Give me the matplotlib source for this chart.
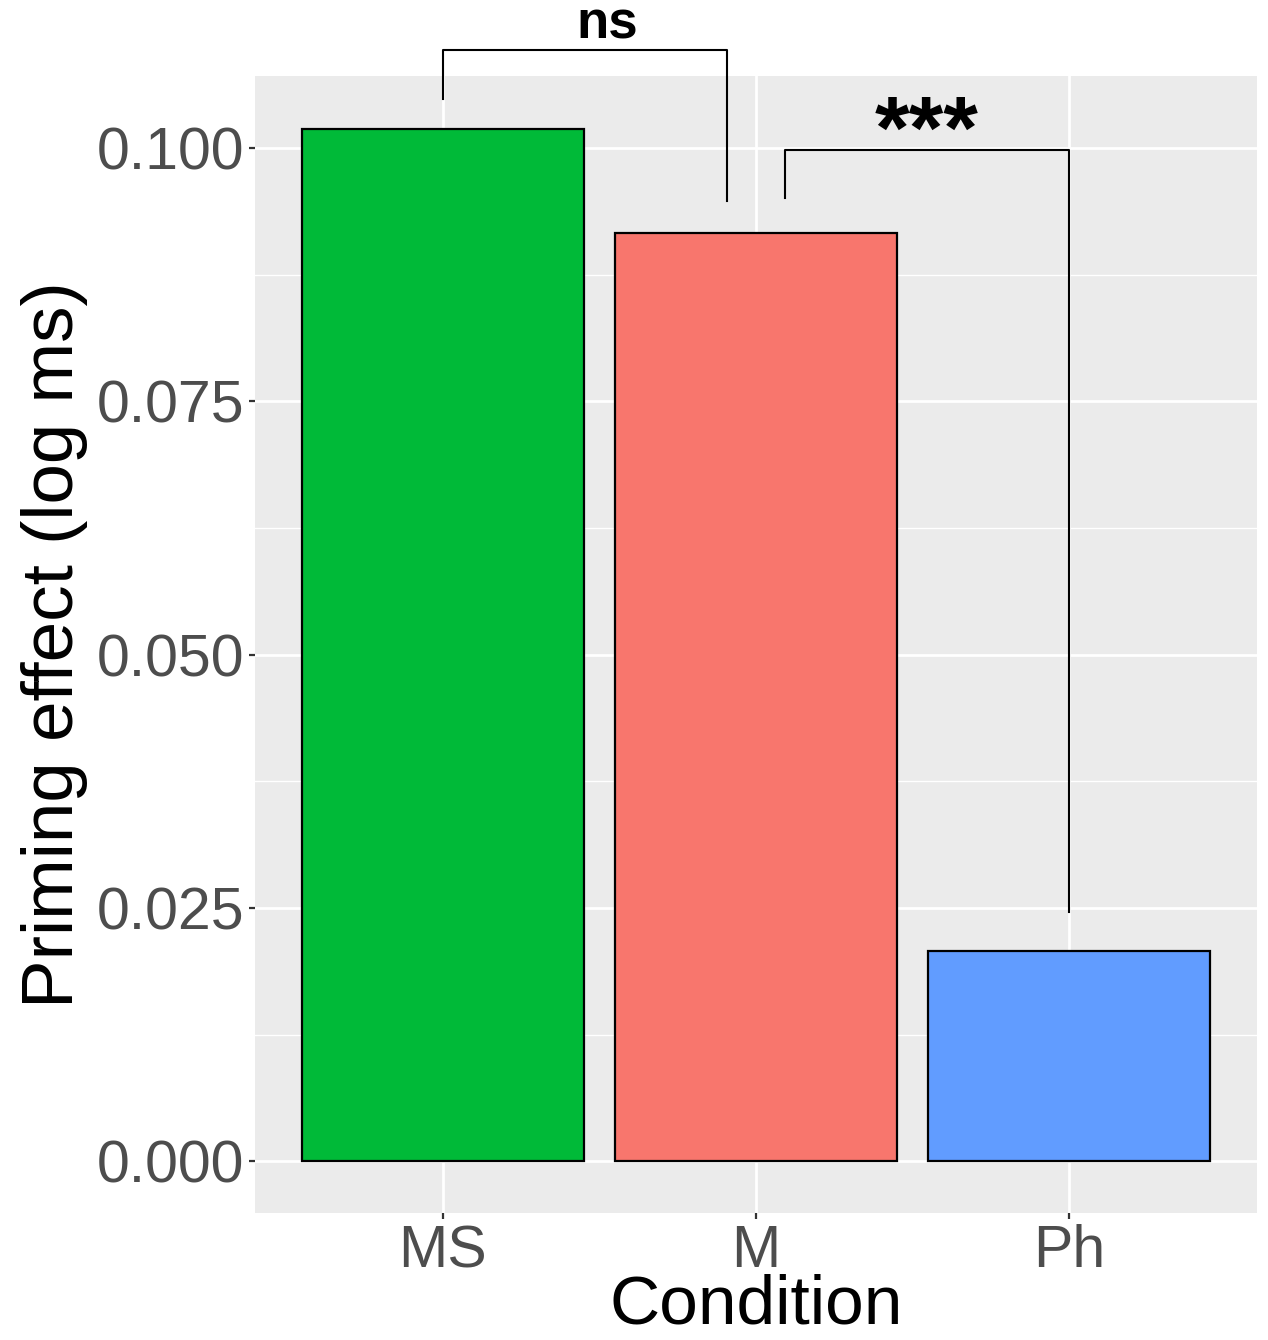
import matplotlib
matplotlib.use("Agg")
import matplotlib.pyplot as plt

conditions = ["MS", "M", "Ph"]
priming = [0.1019, 0.0916, 0.0208]
bar_colors = ["#00BA38", "#F8766D", "#619CFF"]
yticks = [0.000, 0.025, 0.050, 0.075, 0.100]
ytick_labels = ["0.000", "0.025", "0.050", "0.075", "0.100"]

plt.rcParams['font.family'] = ['Liberation Sans', 'DejaVu Sans']

fig = plt.figure(figsize=(12.68, 13.40), dpi=100)
ax = fig.add_axes([255/1268, 1 - 1213/1340, (1257-255)/1268, (1213-76)/1340])
ax.set_facecolor("#EBEBEB")

xpos = [1, 2, 3]
ax.bar(xpos, priming, width=0.9, color=bar_colors, edgecolor="black", linewidth=1.6, zorder=3)

ax.set_xlim(0.4, 3.6)
ax.set_ylim(-0.0051, 0.1071)

# grid
for y in [0.0125, 0.0375, 0.0625, 0.0875]:
    ax.axhline(y, color="white", linewidth=1.0, zorder=1)
for y in yticks:
    ax.axhline(y, color="white", linewidth=2.0, zorder=1)
for x in xpos:
    ax.axvline(x, color="white", linewidth=2.0, zorder=1)

ax.set_yticks(yticks)
ax.set_yticklabels(ytick_labels)
ax.set_xticks(xpos)
ax.set_xticklabels(conditions)
ax.tick_params(axis="both", colors="#333333", length=4, width=1.6, labelsize=42.5, labelcolor="#4D4D4D", pad=4)
ax.tick_params(axis="x", pad=4)
for s in ax.spines.values():
    s.set_visible(False)

ax.set_ylabel("Priming effect (log ms)", fontsize=52.5, color="black", labelpad=6)
ax.set_xlabel("Condition", fontsize=50, color="black", labelpad=-4)

# significance brackets
def bracket(x1, x2, y_left, y_top, y_right):
    ax.plot([x1, x1, x2, x2], [y_left, y_top, y_top, y_right], color="black",
            linewidth=1.5, clip_on=False, zorder=4)

bracket(1.0, 1.908, 0.10483, 0.10966, 0.09478)
ax.text(1.525, 0.1108, "ns", fontsize=38, fontweight="bold", ha="center", va="baseline", clip_on=False)
bracket(2.092, 3.0, 0.0951, 0.0998, 0.02463)
ax.text(2.546, 0.0990, "***", fontsize=64, fontweight="bold", ha="center", va="baseline", clip_on=False)

fig.savefig("out.png", dpi=100)
